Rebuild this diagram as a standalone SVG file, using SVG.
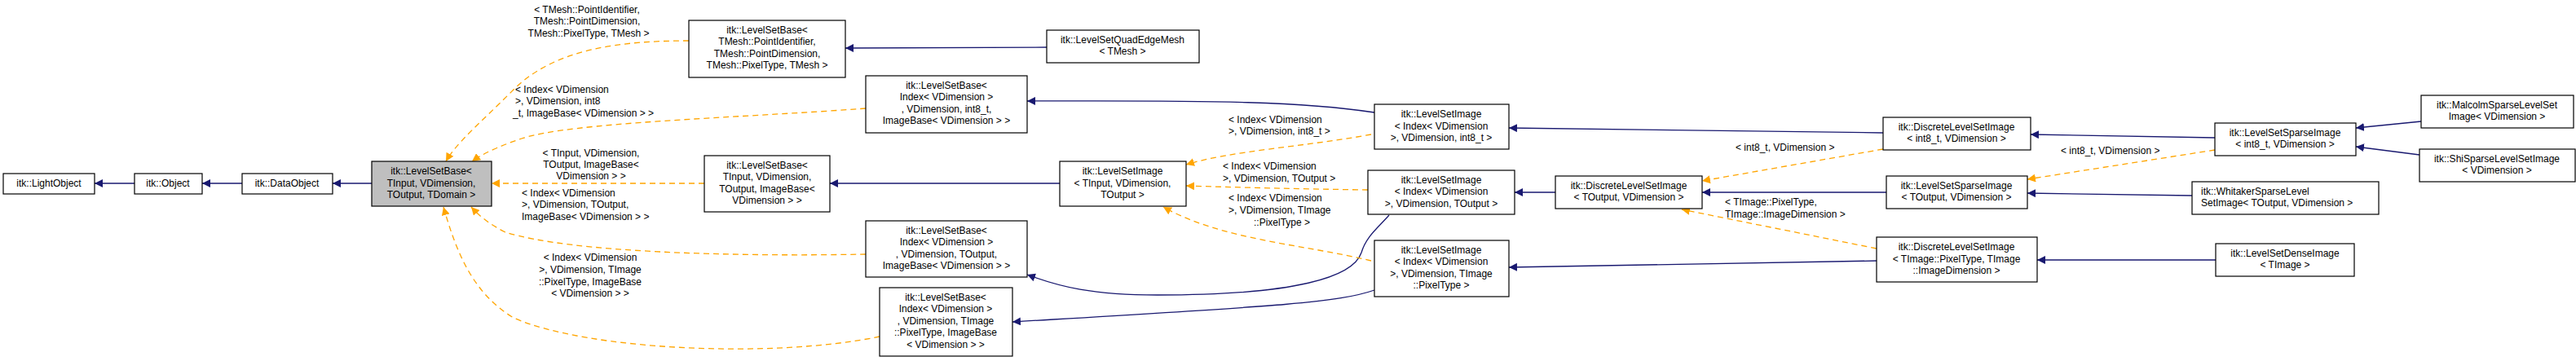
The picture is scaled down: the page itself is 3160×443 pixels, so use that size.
<svg xmlns="http://www.w3.org/2000/svg" width="3160" height="443" viewBox="0 0 3160 443">
<style>
text{font-family:"Liberation Sans",Arial,sans-serif;font-size:12px;fill:#000}
.n rect{fill:#fff;stroke:#000;stroke-width:1.2}
.n text{text-anchor:middle}
.g rect{fill:#bfbfbf}
.b{fill:none;stroke:#191970;stroke-width:1.3}
.o{fill:none;stroke:#ffa500;stroke-width:1.3;stroke-dasharray:7,5}
.lab{text-anchor:start}
.labc{text-anchor:middle}
</style>
<defs>
<marker id="ab" viewBox="0 0 10 10" refX="10" refY="5" markerWidth="10" markerHeight="10" markerUnits="userSpaceOnUse" orient="auto"><path d="M0,0L10,5L0,10z" fill="#191970"/></marker>
<marker id="ao" viewBox="0 0 10 10" refX="10" refY="5" markerWidth="10" markerHeight="10" markerUnits="userSpaceOnUse" orient="auto"><path d="M0,0L10,5L0,10z" fill="#ffa500"/></marker>
</defs>
<g id="edges">
<path class="b" marker-end="url(#ab)" d="M165,225L116,225"/>
<path class="b" marker-end="url(#ab)" d="M297,225L248,225"/>
<path class="b" marker-end="url(#ab)" d="M456,225L408,225"/>
<path class="o" marker-end="url(#ao)" d="M845,50C760,50 680,60 630,110C590,150 560,175 547,198"/>
<path class="o" marker-end="url(#ao)" d="M1062,133C900,145 700,150 640,170C610,180 590,190 579,198"/>
<path class="o" marker-end="url(#ao)" d="M864,225L603,225"/>
<path class="o" marker-end="url(#ao)" d="M1062,312C900,315 700,310 620,285C600,275 588,265 578,254"/>
<path class="o" marker-end="url(#ao)" d="M1079,413C950,440 720,430 630,390C580,360 560,310 544,254"/>
<path class="b" marker-end="url(#ab)" d="M1284,58L1037,59"/>
<path class="b" marker-end="url(#ab)" d="M1686,138C1600,125 1500,123 1260,124"/>
<path class="b" marker-end="url(#ab)" d="M1300,225L1018,225"/>
<path class="b" marker-end="url(#ab)" d="M1704,264C1690,280 1676,290 1670,310C1660,340 1590,362 1420,362C1340,362 1300,352 1260,337"/>
<path class="b" marker-end="url(#ab)" d="M1686,356C1640,372 1560,376 1242,395"/>
<path class="o" marker-end="url(#ao)" d="M1682,165C1600,180 1510,185 1455,202"/>
<path class="o" marker-end="url(#ao)" d="M1678,233C1600,232 1520,230 1455,228"/>
<path class="o" marker-end="url(#ao)" d="M1682,320C1600,300 1500,295 1427,254"/>
<path class="b" marker-end="url(#ab)" d="M1908,236L1858,236"/>
<path class="b" marker-end="url(#ab)" d="M2310,163L1851,157"/>
<path class="b" marker-end="url(#ab)" d="M2302,320L1851,328"/>
<path class="o" marker-end="url(#ao)" d="M2310,183L2088,222"/>
<path class="b" marker-end="url(#ab)" d="M2314,236L2088,236"/>
<path class="o" marker-end="url(#ao)" d="M2302,305L2063,257"/>
<path class="b" marker-end="url(#ab)" d="M2717,169L2491,165"/>
<path class="o" marker-end="url(#ao)" d="M2717,184L2487,220"/>
<path class="b" marker-end="url(#ab)" d="M2689,240L2487,237"/>
<path class="b" marker-end="url(#ab)" d="M2718,319L2499,319"/>
<path class="b" marker-end="url(#ab)" d="M2970,149L2890,157"/>
<path class="b" marker-end="url(#ab)" d="M2968,190L2890,180"/>
<text class="labc" x="720" y="16">&lt; TMesh::PointIdentifier,</text>
<text class="labc" x="720" y="30">TMesh::PointDimension,</text>
<text class="labc" x="722" y="45">TMesh::PixelType, TMesh &gt;</text>
<text class="lab" x="632" y="114">&lt; Index&lt; VDimension</text>
<text class="lab" x="632" y="128">&gt;, VDimension, int8</text>
<text class="lab" x="629" y="143">_t, ImageBase&lt; VDimension &gt; &gt;</text>
<text class="labc" x="725" y="192">&lt; TInput, VDimension,</text>
<text class="labc" x="725" y="206">TOutput, ImageBase&lt;</text>
<text class="labc" x="725" y="220">VDimension &gt; &gt;</text>
<text class="lab" x="640" y="241">&lt; Index&lt; VDimension</text>
<text class="lab" x="640" y="255">&gt;, VDimension, TOutput,</text>
<text class="lab" x="640" y="270">ImageBase&lt; VDimension &gt; &gt;</text>
<text class="labc" x="724" y="320">&lt; Index&lt; VDimension</text>
<text class="labc" x="724" y="335">&gt;, VDimension, TImage</text>
<text class="labc" x="724" y="350">::PixelType, ImageBase</text>
<text class="labc" x="724" y="364">&lt; VDimension &gt; &gt;</text>
<text class="lab" x="1507" y="151">&lt; Index&lt; VDimension</text>
<text class="lab" x="1507" y="165">&gt;, VDimension, int8_t &gt;</text>
<text class="lab" x="1500" y="208">&lt; Index&lt; VDimension</text>
<text class="lab" x="1500" y="223">&gt;, VDimension, TOutput &gt;</text>
<text class="lab" x="1507" y="247">&lt; Index&lt; VDimension</text>
<text class="lab" x="1507" y="262">&gt;, VDimension, TImage</text>
<text class="lab" x="1538" y="277">::PixelType &gt;</text>
<text class="lab" x="2129" y="185">&lt; int8_t, VDimension &gt;</text>
<text class="lab" x="2116" y="252">&lt; TImage::PixelType,</text>
<text class="lab" x="2116" y="267">TImage::ImageDimension &gt;</text>
<text class="lab" x="2528" y="189">&lt; int8_t, VDimension &gt;</text>
</g>
<g id="LightObject" class="n"><rect x="4" y="213" width="112" height="25"/><text x="60" y="229">itk::LightObject</text></g>
<g id="Object" class="n"><rect x="165" y="213" width="83" height="25"/><text x="206" y="229">itk::Object</text></g>
<g id="DataObject" class="n"><rect x="297" y="213" width="111" height="25"/><text x="352" y="229">itk::DataObject</text></g>
<g id="LevelSetBase" class="n g"><rect x="456" y="198" width="147" height="55"/><text x="529" y="214">itk::LevelSetBase&lt;</text><text x="529" y="229">TInput, VDimension,</text><text x="529" y="243">TOutput, TDomain &gt;</text></g>
<g id="LSB_TMesh" class="n"><rect x="845" y="25" width="192" height="70"/><text x="941" y="41">itk::LevelSetBase&lt;</text><text x="941" y="55">TMesh::PointIdentifier,</text><text x="941" y="70">TMesh::PointDimension,</text><text x="941" y="84">TMesh::PixelType, TMesh &gt;</text></g>
<g id="LSQuadEdgeMesh" class="n"><rect x="1284" y="37" width="187" height="40"/><text x="1377" y="53">itk::LevelSetQuadEdgeMesh</text><text x="1377" y="67">&lt; TMesh &gt;</text></g>
<g id="LSB_Index_int8" class="n"><rect x="1062" y="93" width="198" height="70"/><text x="1161" y="109">itk::LevelSetBase&lt;</text><text x="1161" y="123">Index&lt; VDimension &gt;</text><text x="1161" y="138">, VDimension, int8_t,</text><text x="1161" y="152">ImageBase&lt; VDimension &gt; &gt;</text></g>
<g id="LSB_TInput" class="n"><rect x="864" y="191" width="154" height="69"/><text x="941" y="207">itk::LevelSetBase&lt;</text><text x="941" y="221">TInput, VDimension,</text><text x="941" y="236">TOutput, ImageBase&lt;</text><text x="941" y="250">VDimension &gt; &gt;</text></g>
<g id="LSI_TInput" class="n"><rect x="1300" y="198" width="155" height="55"/><text x="1377" y="214">itk::LevelSetImage</text><text x="1377" y="229">&lt; TInput, VDimension,</text><text x="1377" y="243">TOutput &gt;</text></g>
<g id="LSB_Index_TOutput" class="n"><rect x="1062" y="271" width="198" height="69"/><text x="1161" y="287">itk::LevelSetBase&lt;</text><text x="1161" y="301">Index&lt; VDimension &gt;</text><text x="1161" y="316">, VDimension, TOutput,</text><text x="1161" y="330">ImageBase&lt; VDimension &gt; &gt;</text></g>
<g id="LSB_Index_TImage" class="n"><rect x="1079" y="353" width="163" height="84"/><text x="1160" y="369">itk::LevelSetBase&lt;</text><text x="1160" y="383">Index&lt; VDimension &gt;</text><text x="1160" y="398">, VDimension, TImage</text><text x="1160" y="412">::PixelType, ImageBase</text><text x="1160" y="427">&lt; VDimension &gt; &gt;</text></g>
<g id="LSI_Index_int8" class="n"><rect x="1686" y="128" width="165" height="55"/><text x="1768" y="144">itk::LevelSetImage</text><text x="1768" y="159">&lt; Index&lt; VDimension</text><text x="1768" y="173">&gt;, VDimension, int8_t &gt;</text></g>
<g id="LSI_Index_TOutput" class="n"><rect x="1678" y="209" width="180" height="54"/><text x="1768" y="225">itk::LevelSetImage</text><text x="1768" y="239">&lt; Index&lt; VDimension</text><text x="1768" y="254">&gt;, VDimension, TOutput &gt;</text></g>
<g id="LSI_Index_TImage" class="n"><rect x="1686" y="295" width="165" height="69"/><text x="1768" y="311">itk::LevelSetImage</text><text x="1768" y="325">&lt; Index&lt; VDimension</text><text x="1768" y="340">&gt;, VDimension, TImage</text><text x="1768" y="354">::PixelType &gt;</text></g>
<g id="DLSI_TOutput" class="n"><rect x="1908" y="216" width="180" height="40"/><text x="1998" y="232">itk::DiscreteLevelSetImage</text><text x="1998" y="246">&lt; TOutput, VDimension &gt;</text></g>
<g id="DLSI_int8" class="n"><rect x="2310" y="144" width="181" height="40"/><text x="2400" y="160">itk::DiscreteLevelSetImage</text><text x="2400" y="174">&lt; int8_t, VDimension &gt;</text></g>
<g id="LSSI_TOutput" class="n"><rect x="2314" y="216" width="173" height="40"/><text x="2400" y="232">itk::LevelSetSparseImage</text><text x="2400" y="246">&lt; TOutput, VDimension &gt;</text></g>
<g id="DLSI_TImage" class="n"><rect x="2302" y="291" width="197" height="55"/><text x="2400" y="307">itk::DiscreteLevelSetImage</text><text x="2400" y="322">&lt; TImage::PixelType, TImage</text><text x="2400" y="336">::ImageDimension &gt;</text></g>
<g id="LSSI_int8" class="n"><rect x="2717" y="151" width="173" height="40"/><text x="2803" y="167">itk::LevelSetSparseImage</text><text x="2803" y="181">&lt; int8_t, VDimension &gt;</text></g>
<g id="Malcolm" class="n"><rect x="2970" y="117" width="187" height="40"/><text x="3063" y="133">itk::MalcolmSparseLevelSet</text><text x="3063" y="147">Image&lt; VDimension &gt;</text></g>
<g id="Shi" class="n"><rect x="2968" y="183" width="191" height="40"/><text x="3063" y="199">itk::ShiSparseLevelSetImage</text><text x="3063" y="213">&lt; VDimension &gt;</text></g>
<g id="Whitaker" class="n"><rect x="2689" y="223" width="229" height="40"/><text x="2700" y="239" style="text-anchor:start">itk::WhitakerSparseLevel</text><text x="2700" y="253" style="text-anchor:start">SetImage&lt; TOutput, VDimension &gt;</text></g>
<g id="LSDense" class="n"><rect x="2718" y="299" width="170" height="40"/><text x="2803" y="315">itk::LevelSetDenseImage</text><text x="2803" y="329">&lt; TImage &gt;</text></g>
</svg>
